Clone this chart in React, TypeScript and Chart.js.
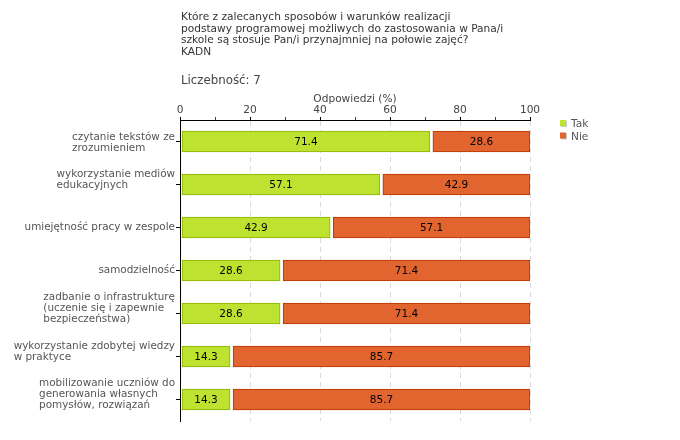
import { useEffect, useRef } from 'react';
import { Chart, registerables } from 'chart.js';

Chart.register(...registerables);

const FONT = '"DejaVu Sans", Verdana, sans-serif';

const titleLines = [
  'Które z zalecanych sposobów i warunków realizacji',
  'podstawy programowej możliwych do zastosowania w Pana/i',
  'szkole są stosuje Pan/i przynajmniej na połowie zajęć?',
  'KADN',
];
const countLabel = 'Liczebność: 7';
const axisTitle = 'Odpowiedzi (%)';

const categories: string[][] = [
  ['czytanie tekstów ze', 'zrozumieniem'],
  ['wykorzystanie mediów', 'edukacyjnych'],
  ['umiejętność pracy w zespole'],
  ['samodzielność'],
  ['zadbanie o infrastrukturę', '(uczenie się i zapewnie', 'bezpieczeństwa)'],
  ['wykorzystanie zdobytej wiedzy', 'w praktyce'],
  ['mobilizowanie uczniów do', 'generowania własnych', 'pomysłów, rozwiązań'],
];

const seriesNames = ['Tak', 'Nie'];
const takValues = [71.4, 57.1, 42.9, 28.6, 28.6, 14.3, 14.3];
const nieValues = [28.6, 42.9, 57.1, 71.4, 71.4, 85.7, 85.7];
const labeledTicks = [0, 20, 40, 60, 80, 100];

const fillColors = ['#bde230', '#e26530'];
const borderColors = ['#8cb000', '#b83300'];

const insetPlugin = {
  id: 'insetBars',
  afterDatasetsUpdate(chart: any) {
    chart.data.datasets.forEach((_ds: any, i: number) => {
      const meta = chart.getDatasetMeta(i);
      const off = i === 0 ? 1.5 : 3;
      meta.data.forEach((el: any) => {
        el.base = el.base + off;
      });
    });
  },
};

const valueLabelPlugin = {
  id: 'valueLabels',
  afterDatasetsDraw(chart: any) {
    const ctx = chart.ctx;
    ctx.save();
    ctx.font = `10.5px ${FONT}`;
    ctx.fillStyle = '#000';
    ctx.textAlign = 'center';
    ctx.textBaseline = 'middle';
    chart.data.datasets.forEach((ds: any, i: number) => {
      const meta = chart.getDatasetMeta(i);
      meta.data.forEach((el: any, j: number) => {
        const v = ds.data[j];
        ctx.fillText(v.toFixed(1), (el.base + el.x) / 2, el.y + 1);
      });
    });
    ctx.restore();
  },
};

const categoryLabelPlugin = {
  id: 'categoryLabels',
  afterDraw(chart: any) {
    const ctx = chart.ctx;
    const yScale = chart.scales.y;
    const area = chart.chartArea;
    const lh = 11;
    const right = area.left - 5;
    ctx.save();
    ctx.font = `10.4px ${FONT}`;
    ctx.fillStyle = '#555';
    ctx.textAlign = 'left';
    ctx.textBaseline = 'middle';
    categories.forEach((lines, i) => {
      const ty = yScale.getPixelForTick(i);
      const w = Math.max(...lines.map((l) => ctx.measureText(l).width));
      const x = right - w;
      const n = lines.length;
      const blockH = n * lh;
      let center = n > 1 ? ty - 5 : ty - 0.5;
      const minTop = area.top + 12;
      if (center - blockH / 2 < minTop) center = minTop + blockH / 2;
      const firstMid = center - ((n - 1) * lh) / 2;
      lines.forEach((l, k) => ctx.fillText(l, x, firstMid + k * lh));
    });
    ctx.restore();
  },
};

const headerPlugin = {
  id: 'header',
  afterDraw(chart: any) {
    const ctx = chart.ctx;
    const area = chart.chartArea;
    const x0 = area.left + 1;
    ctx.save();
    ctx.fillStyle = '#333';
    ctx.textAlign = 'left';
    ctx.textBaseline = 'alphabetic';
    ctx.font = `10.6px ${FONT}`;
    titleLines.forEach((line, i) => {
      ctx.fillText(line, x0, 20 + i * 11.5);
    });
    ctx.fillStyle = '#444';
    ctx.font = `11.8px ${FONT}`;
    ctx.fillText(countLabel, x0, 84);
    ctx.font = `10.6px ${FONT}`;
    ctx.fillStyle = '#444';
    ctx.textAlign = 'center';
    ctx.fillText(axisTitle, (area.left + area.right) / 2, 102);

    // legend
    ctx.textAlign = 'left';
    chart.data.datasets.forEach((ds: any, i: number) => {
      const y0 = 120 + i * 12.5;
      ctx.fillStyle = '#c8c8c8';
      ctx.fillRect(561, y0 + 1, 6, 6);
      ctx.fillStyle = ds.backgroundColor;
      ctx.fillRect(560, y0, 6, 6);
      ctx.fillStyle = '#555';
      ctx.fillText(seriesNames[i], 571, y0 + 7);
    });
    ctx.restore();
  },
};

export default function App() {
  const ref = useRef<HTMLCanvasElement>(null);

  useEffect(() => {
    const chart = new Chart(ref.current as HTMLCanvasElement, {
      type: 'bar',
      data: {
        labels: categories,
        datasets: [
          {
            label: seriesNames[0],
            data: takValues,
            backgroundColor: fillColors[0],
            borderColor: borderColors[0],
            borderWidth: 1,
            borderSkipped: false,
            barThickness: 21,
          },
          {
            label: seriesNames[1],
            data: nieValues,
            backgroundColor: fillColors[1],
            borderColor: borderColors[1],
            borderWidth: 1,
            borderSkipped: false,
            barThickness: 21,
          },
        ],
      },
      options: {
        indexAxis: 'y',
        responsive: false,
        animation: false,
        layout: { padding: { left: 0, top: 0, right: 150, bottom: 19 } },
        plugins: {
          legend: { display: false },
          title: { display: false },
          tooltip: { enabled: false },
        },
        scales: {
          x: {
            type: 'linear',
            position: 'top',
            stacked: true,
            min: 0,
            max: 100,
            ticks: {
              stepSize: 10,
              autoSkip: false,
              maxRotation: 0,
              padding: 0,
              color: '#444',
              font: { family: FONT, size: 10.6 },
              callback: (v: any) => (labeledTicks.includes(Number(v)) ? String(v) : ''),
            },
            grid: {
              color: (c: any) =>
                c.tick && c.tick.value % 20 === 0 && c.tick.value > 0 ? '#d9d9d9' : 'rgba(0,0,0,0)',
              tickColor: (c: any) => (c.tick && c.tick.value % 20 === 0 ? '#000' : '#e00000'),
              tickLength: 3,
              lineWidth: 1,
            },
            border: { color: '#000', width: 1, dash: [5, 4] },
            afterFit: (s: any) => {
              s.height = 120;
              s.paddingLeft = 0;
              s.paddingRight = 0;
            },
          },
          y: {
            type: 'category',
            stacked: true,
            ticks: {
              display: false,
              autoSkip: false,
            },
            grid: {
              offset: false,
              drawOnChartArea: false,
              tickLength: 4,
              color: '#000',
            },
            border: { color: '#000', width: 1 },
            afterFit: (s: any) => {
              s.width = 180;
              s.paddingTop = 0;
              s.paddingBottom = 0;
            },
          },
        },
      },
      plugins: [insetPlugin, valueLabelPlugin, categoryLabelPlugin, headerPlugin],
    } as any);
    return () => chart.destroy();
  }, []);

  return (
    <div style={{ position: 'absolute', left: 0, top: 0, width: 680, height: 440, background: '#fff' }}>
      <canvas ref={ref} width={680} height={440} style={{ display: 'block' }} />
    </div>
  );
}
